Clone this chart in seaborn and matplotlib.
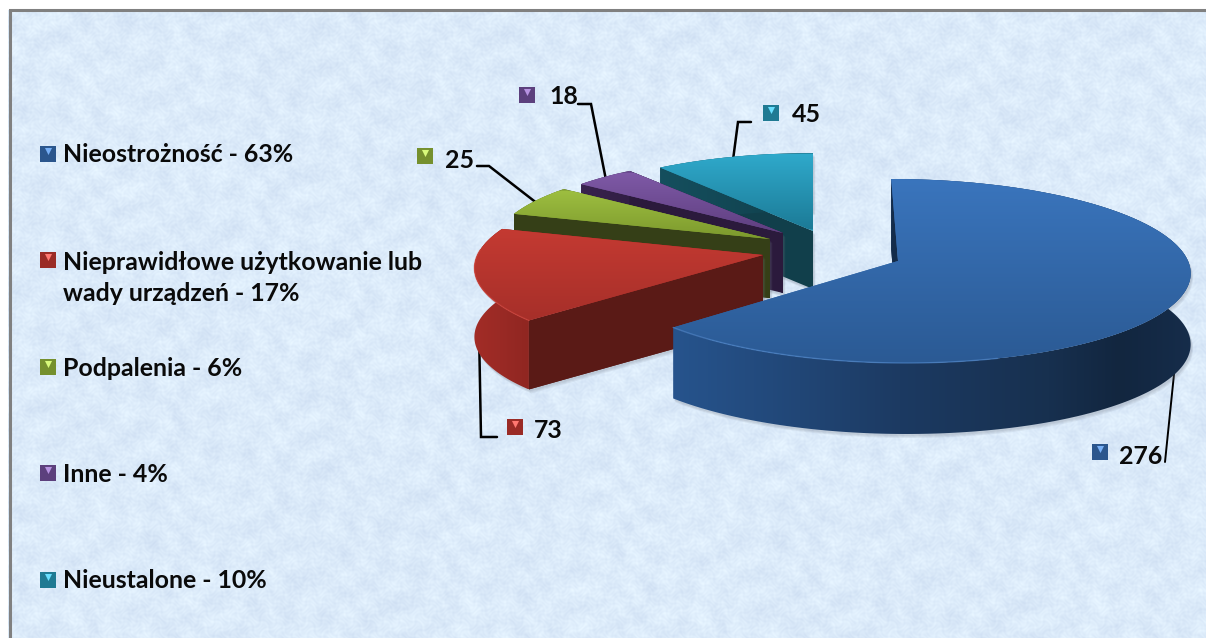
import numpy as np
import matplotlib
matplotlib.use("Agg")
import matplotlib.pyplot as plt
from matplotlib.colors import to_rgb
from matplotlib.path import Path
from matplotlib.transforms import Transform
import seaborn as sns

categories = ["Nieostrożność", "Nieprawidłowe użytkowanie lub\nwady urządzeń",
              "Podpalenia", "Inne", "Nieustalone"]
percents = [63, 17, 6, 4, 10]
counts = [276, 73, 25, 18, 45]
base_colors = ["#3265a6", "#b5332d", "#8aa936", "#6c4b93", "#2590ad"]

W, H = 1206, 638
sns.set_theme(style="white")
plt.rcParams["font.family"] = ["Lato", "DejaVu Sans"]
palette = sns.color_palette(base_colors)

fig = plt.figure(figsize=(W / 100, H / 100), dpi=100)
fig.patch.set_facecolor("white")
ax = fig.add_axes([0, 0, 1, 1])

# layout of each exploded slice in pixels: apex x, apex y, scale, skew, depth
slice_layout = [(898, 261, 1.00, -7.5, 71),
                (763, 255, 0.985, 10.0, 69),
                (770, 239, 0.95, -5.5, 59),
                (783, 233, 0.93, -5.5, 60),
                (813, 231, 0.95, 0.0, 58)]
RX, RY, PERSP = 290.0, 90.9, 0.1087


class Projection(Transform):
    input_dims = output_dims = 2
    has_inverse = False
    is_separable = False

    def __init__(self, cx, cy, s, skew):
        super().__init__()
        self.p = (cx, cy, s, skew)

    def transform_non_affine(self, values):
        v = np.asarray(values, float)
        cx, cy, s, skew = self.p
        d = 1 + PERSP * v[:, 1]
        return np.column_stack([cx + s * (RX * v[:, 0] + skew * v[:, 1]) / d,
                                cy - s * RY * v[:, 1] / d])


def mix_gradient(stops, n=256):
    pos = np.array([p for p, _ in stops], float)
    rgb = np.array([to_rgb(c) for _, c in stops])
    t = np.linspace(pos[0], pos[-1], n)
    return t, np.column_stack([np.interp(t, pos, rgb[:, i]) for i in range(3)])


def gradient(stops, horizontal, clip, z, span):
    t, cols = mix_gradient(stops)
    if horizontal:
        img = cols[np.newaxis, :, :]
        extent = (t[0], t[-1], span[1], span[0])
    else:
        img = cols[:, np.newaxis, :]
        extent = (span[0], span[1], t[-1], t[0])
    im = ax.imshow(img, extent=extent, aspect="auto", origin="upper",
                   zorder=z, interpolation="bilinear")
    im.set_clip_path(Path(np.vstack([clip, clip[:1]]), closed=True), transform=ax.transData)


# paper-like background (deterministic interference pattern)
yy, xx = np.mgrid[0:H, 0:W].astype(float)
tex = (.25 * np.sin(xx * .031 + 2.2 * np.sin(yy * .023)) * np.sin(yy * .037 + 1.7 * np.sin(xx * .019))
       + .4 * np.sin(xx * .13 + yy * .09 + 2 * np.sin(yy * .05 - xx * .03))
       + .4 * np.sin(xx * .11 - yy * .17 + 2 * np.sin(xx * .07))
       + .6 * np.sin(xx * .43 + 1.5 * np.sin(yy * .31)) * np.sin(yy * .47 + 1.5 * np.sin(xx * .29))
       + .6 * np.sin(xx * .71 + 2.5 * np.sin(yy * .37)) * np.sin(yy * .83 + 2.5 * np.sin(xx * .41)))
tex = tex / np.abs(tex).max()
paper = np.array(to_rgb("#dcebfa"))
bg = paper[None, None, :] + tex[:, :, None] * np.array([.055, .05, .03])[None, None, :]
ax.imshow(np.clip(bg, 0, 1), extent=(0, W, H, 0), aspect="auto", zorder=0)

wedges, _ = ax.pie(counts, colors=palette, startangle=90, counterclock=False, radius=1)
ax.set_aspect("auto")

top_stops = [[(178, "#3a75bd"), (363, "#2b5a94")],
             [(229, "#c43a32"), (321, "#a62f29")],
             [(191, "#9dbe40"), (239, "#7c992d")],
             [(173, "#7e59a6"), (233, "#5f3f80")],
             [(154, "#2fa9cb"), (229, "#1c7b97")]]
arc_stops = [[(660, "#27558f"), (800, "#214676"), (900, "#1c3a62"),
              (1050, "#17304f"), (1120, "#12263f"), (1195, "#162d4b")],
             [(465, "#a52d27"), (500, "#9a2a25"), (545, "#8a241f")],
             [(500, "#4a5c1f"), (580, "#3e4d1a")],
             [(570, "#3a2450"), (650, "#2e1c40")],
             [(650, "#15505f"), (820, "#103e4a")]]
face_colors = ["#142c4a", "#5a1a16", "#353f17", "#2b1a3c", "#113f4b"]
rim_colors = ["#5088cc", "#d2453c", None, None, None]
front_face = [False, False, False, True, True]

n = len(counts)
for i in reversed(range(n)):
    cx, cy, s, skew, depth = slice_layout[i]
    base_z = 10 + (n - i) * 10 if i else 80
    w = wedges[i]
    proj = Projection(cx, cy, s, skew)
    th = np.radians(np.linspace(w.theta1, w.theta2, 240))
    arc = proj.transform_non_affine(np.column_stack([np.cos(th), np.sin(th)]))
    apex = np.array([[float(cx), float(cy)]])
    low = np.array([0, depth])
    wall = np.vstack([arc, (arc + low)[::-1]])
    face_a = np.vstack([apex, arc[:1], arc[:1] + low, apex + low])
    face_b = np.vstack([apex, arc[-1:], arc[-1:] + low, apex + low])
    # soft shadow
    for off in (4, 3, 2):
        for poly in (wall, face_b):
            ax.fill(*(poly + [off * .6, off]).T, color="#6b7280", alpha=.10, lw=0, zorder=base_z)
    if i != 0:
        ax.fill(*face_a.T, color=face_colors[i], lw=0, zorder=base_z + 1)
    ax.fill(*face_b.T, color=face_colors[i], lw=0, zorder=base_z + 1)
    span = (wall[:, 1].min(), wall[:, 1].max())
    gradient(arc_stops[i], True, wall, base_z + 2, span)
    # the radial face that looks at the viewer lies over the outer wall
    ax.fill(*(face_a if front_face[i] else face_b).T, color=face_colors[i], lw=0, zorder=base_z + 3)
    w.set_transform(proj + ax.transData)
    w.set_zorder(base_z + 4)
    w.set_edgecolor("none")
    top = np.vstack([apex, arc])
    gradient(top_stops[i], False, top, base_z + 5,
             (top[:, 0].min(), top[:, 0].max()))
    if rim_colors[i]:
        keep = (arc[:, 1] > cy + 50) & (arc[:, 0] < 1000) if i == 0 else arc[:, 1] > cy - 5
        ax.plot(*arc[keep].T, color=rim_colors[i], lw=1.0, alpha=.6, zorder=base_z + 6)

# leader lines (they start under the slices)
leaders = [[(1177, 345), (1165, 462)],
           [(479, 330), (481, 437), (497, 437)],
           [(477, 166), (489, 166), (538, 204)],
           [(578, 104), (591, 104), (606, 180)],
           [(751, 122), (738, 122), (733, 160)]]
for pts, lw in zip(leaders, [1.4, 1.8, 1.8, 1.8, 1.8]):
    ax.plot(*np.array(pts).T, color="black", lw=lw, zorder=8, solid_joinstyle="miter")

TEXT = dict(color="#0a0a0a", fontweight="bold", fontsize=17.9, va="center", zorder=110)


def key(x, y, i):
    c = np.array(palette[i])
    ax.scatter([x], [y], marker="s", s=125, color=c * .85, linewidths=0, zorder=105)
    ax.scatter([x], [y - 3.5], marker="v", s=26, color=np.clip(c * 1.1 + .25, 0, 1),
               linewidths=0, zorder=106)


legend_y = [155, 278, 368, 474, 581]
key_y = [154, 260, 367, 473, 580]
for i in range(n):
    key(48, key_y[i], i)
    ax.text(63, legend_y[i], f"{categories[i]} - {percents[i]}%", ha="left",
            linespacing=1.37, **TEXT)

value_pos = [(1100, 452, 1119, 456), (515, 427, 534, 430), (425, 156, 445, 160),
             (527, 95, 549, 97), (771, 113, 792, 115)]
for i, (mx, my, tx, ty) in enumerate(value_pos):
    key(mx, my, i)
    ax.text(tx, ty, str(counts[i]), ha="left", **TEXT)

# frame
ax.fill([0, W, W, 0], [0, 0, 10, 10], color="white", lw=0, zorder=120)
ax.fill([0, 8, 8, 0], [0, 0, H, H], color="white", lw=0, zorder=120)
ax.plot([9.5, 9.5, W], [H, 10, 10], color="#808080", lw=2.2, zorder=121, solid_joinstyle="miter")

ax.set_xlim(0, W)
ax.set_ylim(H, 0)
ax.axis("off")
fig.savefig("out.png", dpi=100)
